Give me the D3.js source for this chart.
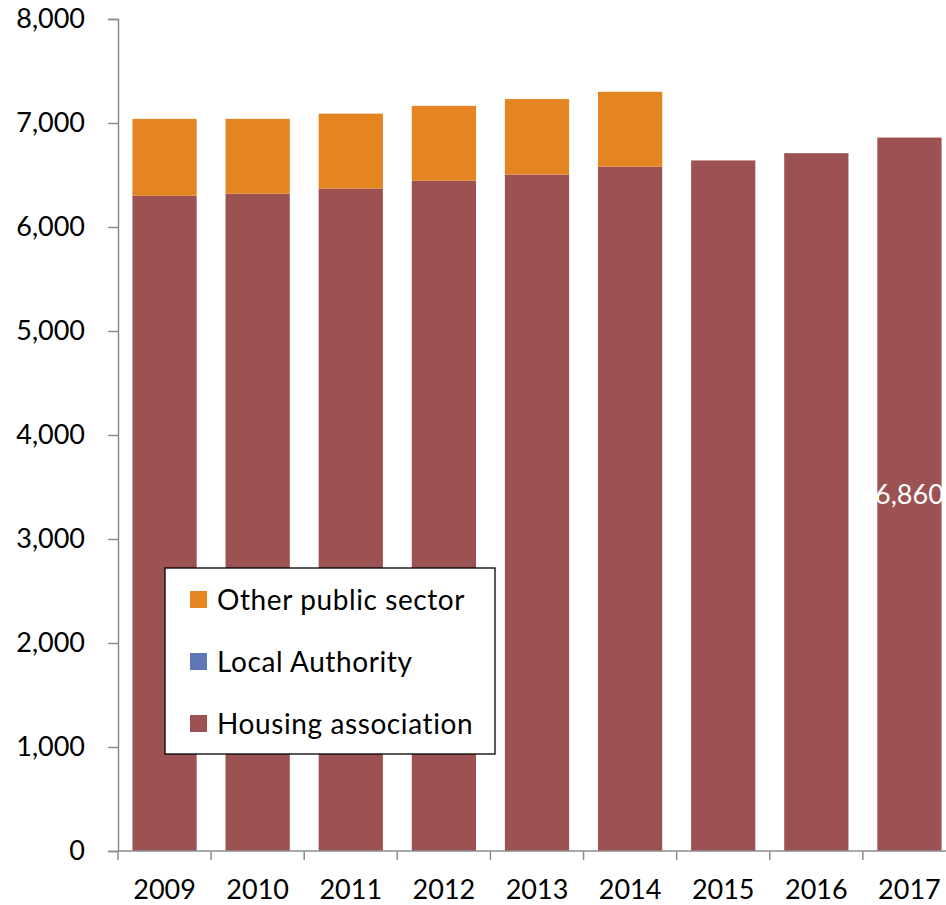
<!DOCTYPE html>
<html>
<head>
<meta charset="utf-8">
<script src="https://cdn.jsdelivr.net/npm/d3@7/dist/d3.min.js"></script>
<style>
  html, body { margin: 0; padding: 0; background: #fff; overflow: hidden; }
  svg { display: block; font-family: Lato, "Open Sans", sans-serif; }
</style>
</head>
<body>
<svg id="chart" width="946" height="905"></svg>
<script>
// Dwellings by tenure, stacked per year
const years = ["2009", "2010", "2011", "2012", "2013", "2014", "2015", "2016", "2017"];
const housingAssociation = [6300, 6320, 6370, 6445, 6505, 6580, 6640, 6710, 6860];
const localAuthority = [0, 0, 0, 0, 0, 0, 0, 0, 0];
const otherPublicSector = [740, 720, 720, 720, 725, 720, 0, 0, 0];
const yTicks = [0, 1000, 2000, 3000, 4000, 5000, 6000, 7000, 8000];
const labelledYear = "2017";

const seriesDefs = [
  { key: "housing", name: "Housing association", values: housingAssociation, color: "#9C5152" },
  { key: "local", name: "Local Authority", values: localAuthority, color: "#5E77B7" },
  { key: "other", name: "Other public sector", values: otherPublicSector, color: "#E58521" }
];

const rows = years.map((y, i) => {
  const r = { year: y };
  seriesDefs.forEach(s => r[s.key] = s.values[i]);
  return r;
});

const svg = d3.select("#chart");
const x0 = 118, x1 = 956, yTop = 19, yBottom = 851;

const x = d3.scaleBand().domain(years).range([x0, x1]).paddingInner(0.31).paddingOuter(0.155);
const y = d3.scaleLinear().domain([0, 8000]).range([yBottom, yTop]);

const stack = d3.stack().keys(seriesDefs.map(s => s.key));
const stacked = stack(rows);
const colorOf = Object.fromEntries(seriesDefs.map(s => [s.key, s.color]));

// bars
svg.append("g").selectAll("g")
  .data(stacked)
  .join("g")
  .attr("fill", d => colorOf[d.key])
  .selectAll("rect")
  .data(d => d.filter(p => p[1] - p[0] > 0))
  .join("rect")
  .attr("x", d => x(d.data.year))
  .attr("width", x.bandwidth())
  .attr("y", d => y(d[1]))
  .attr("height", d => y(d[0]) - y(d[1]));

const axisColor = "#8C8C8C";
const fontSize = 27;

// y axis
const yAxis = svg.append("g")
  .attr("transform", `translate(${x0},0)`)
  .call(d3.axisLeft(y).tickValues(yTicks).tickSize(10).tickPadding(23)
    .tickFormat(d3.format(",")));
yAxis.select(".domain").attr("stroke", axisColor).attr("stroke-width", 1.5);
yAxis.selectAll(".tick line").attr("stroke", axisColor).attr("stroke-width", 1.5);
yAxis.selectAll(".tick text").attr("font-size", fontSize).attr("fill", "#000")
  .attr("font-family", "Lato, 'Open Sans', sans-serif");

// x axis with ticks on band boundaries
const xg = svg.append("g").attr("transform", `translate(0,${yBottom})`);
xg.append("line").attr("x1", x0).attr("x2", x1).attr("stroke", axisColor).attr("stroke-width", 1.5);
const step = x.step();
const boundaries = d3.range(years.length + 1).map(i => x0 + i * step);
xg.selectAll("line.b").data(boundaries).join("line").attr("class", "b")
  .attr("x1", d => d).attr("x2", d => d).attr("y1", 0).attr("y2", 9)
  .attr("stroke", axisColor).attr("stroke-width", 1.5);
xg.selectAll("text").data(years).join("text")
  .attr("x", d => x(d) + x.bandwidth() / 2)
  .attr("y", 48)
  .attr("text-anchor", "middle")
  .attr("font-size", fontSize)
  .text(d => d);

// value label on the last bar
const li = years.indexOf(labelledYear);
const lv = housingAssociation[li];
svg.append("text")
  .attr("x", x(labelledYear) + x.bandwidth() / 2)
  .attr("y", (y(lv) + y(0)) / 2)
  .attr("dy", "0.35em")
  .attr("text-anchor", "middle")
  .attr("font-size", fontSize)
  .attr("fill", "#fff")
  .text(d3.format(",")(lv));

// legend
const legend = svg.append("g").attr("transform", "translate(165,568)");
legend.append("rect").attr("width", 330).attr("height", 186)
  .attr("fill", "#fff").attr("stroke", "#000").attr("stroke-width", 1.3);
const legendItems = [seriesDefs[2], seriesDefs[1], seriesDefs[0]];
legend.selectAll("g.item").data(legendItems).join("g").attr("class", "item")
  .attr("transform", (d, i) => `translate(25,${23 + i * 62})`)
  .call(g => {
    g.append("rect").attr("width", 17).attr("height", 17).attr("fill", d => d.color);
    g.append("text").attr("x", 27).attr("y", 8.5).attr("dy", "0.36em")
      .attr("font-size", 28).attr("letter-spacing", 0.6).text(d => d.name);
  });
</script>
</body>
</html>
